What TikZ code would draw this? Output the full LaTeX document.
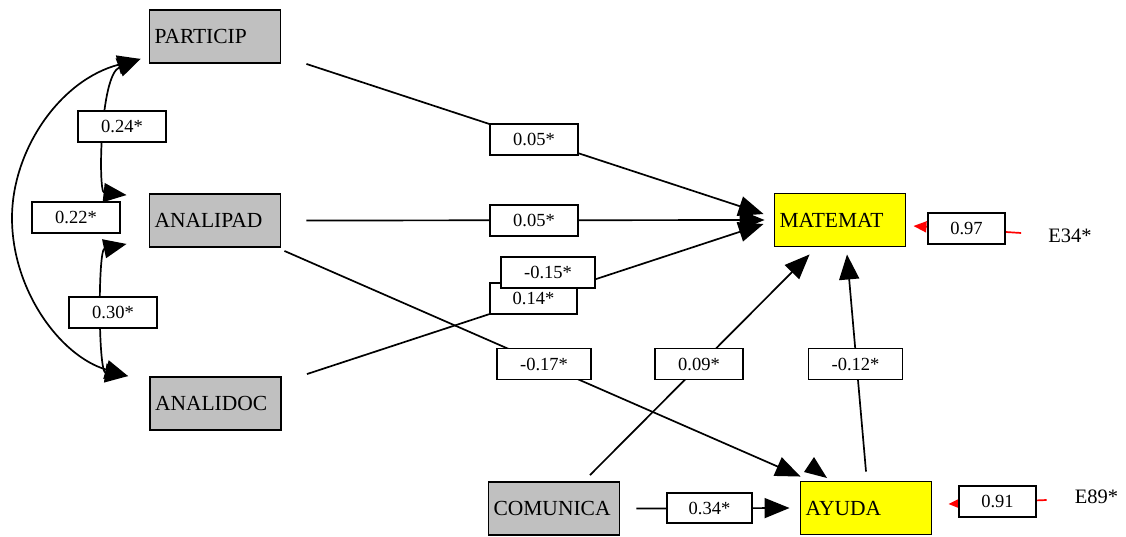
\documentclass[tikz,border=0pt]{standalone}
\usepackage{fontspec}
\setmainfont{Liberation Serif}
\usetikzlibrary{arrows.meta,calc}
\definecolor{boxgray}{HTML}{C0C0C0}
\definecolor{boxyellow}{HTML}{FFFF00}
\begin{document}
\begin{tikzpicture}[x=1pt,y=-1pt,
  var/.style={draw, line width=1.9pt, minimum height=53pt, text width=121pt,
    inner xsep=5pt, inner ysep=0pt, align=left, font=\fontsize{21.5}{24}\selectfont},
  indep/.style={var, fill=boxgray},
  dep/.style={var, fill=boxyellow},
  lab/.style={draw, fill=white, line width=1.9pt, minimum width=88pt,
    minimum height=31pt, inner sep=0pt, font=\fontsize{18.5}{20}\selectfont},
  wlab/.style={lab, minimum width=94pt},
  elab/.style={lab, minimum width=77pt},
  etext/.style={inner sep=0pt, font=\fontsize{20.5}{22}\selectfont},
  pth/.style={line width=1.7pt, -{Triangle[length=25pt,width=20pt]}},
  cov/.style={line width=1.7pt, {Triangle[length=23pt,width=19pt]}-{Triangle[length=23pt,width=19pt]}},
  err/.style={red, line width=1.7pt, -{Triangle[length=13pt,width=11pt]}},
]
\useasboundingbox (0,0) rectangle (1126,536);

% variables
\node[indep] (PARTICIP) at (215,36.5) {PARTICIP};
\node[indep] (ANALIPAD) at (215,220.5) {ANALIPAD};
\node[indep] (ANALIDOC) at (215.5,403.5) {ANALIDOC};
\node[dep] (MATEMAT) at (840,220) {MATEMAT};
\node[indep] (COMUNICA) at (554,508.5) {COMUNICA};
\node[dep] (AYUDA) at (866,508) {AYUDA};
\node[etext] (E34) at (1070,236) {E34*};
\node[etext] (E89) at (1096.5,497) {E89*};

% endpoints
\coordinate (pS) at ($(PARTICIP.south east)+(25,0)$);
\coordinate (aS) at ($(ANALIPAD.east)+(25,0)$);
\coordinate (dS) at ($(ANALIDOC.north east)+(25,-2)$);
\coordinate (aS2) at ($(ANALIPAD.south east)+(3,3)$);
\coordinate (cS) at ($(COMUNICA.north)+(36,-6)$);
\coordinate (cS2) at ($(COMUNICA.east)+(16,0)$);
\coordinate (yS) at ($(AYUDA.north)+(0,-9)$);
\coordinate (mT1) at ($(MATEMAT.west)+(-10,-6)$);
\coordinate (mT2) at ($(MATEMAT.west)+(-9,0)$);
\coordinate (mT3) at ($(MATEMAT.west)+(-10,4)$);
\coordinate (mT4) at ($(MATEMAT.south west)+(36,7)$);
\coordinate (mT5) at ($(MATEMAT.south)+(7,7)$);
\coordinate (yT1) at ($(AYUDA.north west)+(1,-4)$);
\coordinate (yT2) at ($(AYUDA.west)+(-10,0)$);
\coordinate (e34) at ($(E34.west)+(-27,-3)$);
\coordinate (mE) at ($(MATEMAT.east)+(7,6)$);
\coordinate (e89) at ($(E89.west)+(-28,3)$);
\coordinate (yE) at ($(AYUDA.east)+(16,-4)$);
\coordinate (cP) at ($(PARTICIP.south west)+(-8,-5)$);
\coordinate (cA1) at ($(ANALIPAD.north west)+(-22,2)$);
\coordinate (cA2) at ($(ANALIPAD.south west)+(-22,-4)$);
\coordinate (cD) at ($(ANALIDOC.north west)+(-21,0)$);

% covariances
\draw[cov] (cA1) .. controls (98,192) and (100,75) .. (cP);
\draw[cov] (cA2) .. controls (98,250) and (98,372) .. (cD);
\draw[cov] (cP) .. controls (60,80) and (12,150) .. (12,218)
  .. controls (12,290) and (60,356) .. (cD);

% paths
\draw[pth] (pS) -- (mT1);
\draw[pth] (aS) -- (mT2);
\draw[pth] (dS) -- (mT3);
\draw[pth] (aS2) -- (yT1);
\draw[pth] (cS) -- (mT4);
\draw[pth] (yS) -- (mT5);
\draw[pth] (cS2) -- (yT2);
\fill (814,457) -- (804,472) -- (827,478) -- cycle;

% errors
\draw[err] (e34) -- (mE);
\draw[err] (e89) -- (yE);

% labels
\node[lab] (l24) at (122,126.5) {0.24*};
\node[lab] (l22) at (76,217.5) {0.22*};
\node[lab] (l30) at (113,312.5) {0.30*};
\node[lab] (l05a) at (534,139.5) {0.05*};
\node[lab] (l05b) at (534,220.5) {0.05*};
\node[lab, minimum width=87pt] (l14) at (533.5,298.5) {0.14*};
\node[wlab] (l15) at (548,272.5) {-0.15*};
\node[wlab] (l17) at (544,364) {-0.17*};
\node[lab] (l09) at (699,364) {0.09*};
\node[wlab] (l12) at (855.5,364) {-0.12*};
\node[lab, minimum width=85pt, minimum height=30pt] (l34) at (709.5,508) {0.34*};
\node[elab] (l97) at (966.5,228.5) {0.97};
\node[elab] (l91) at (997.5,501.5) {0.91};
\end{tikzpicture}
\end{document}
